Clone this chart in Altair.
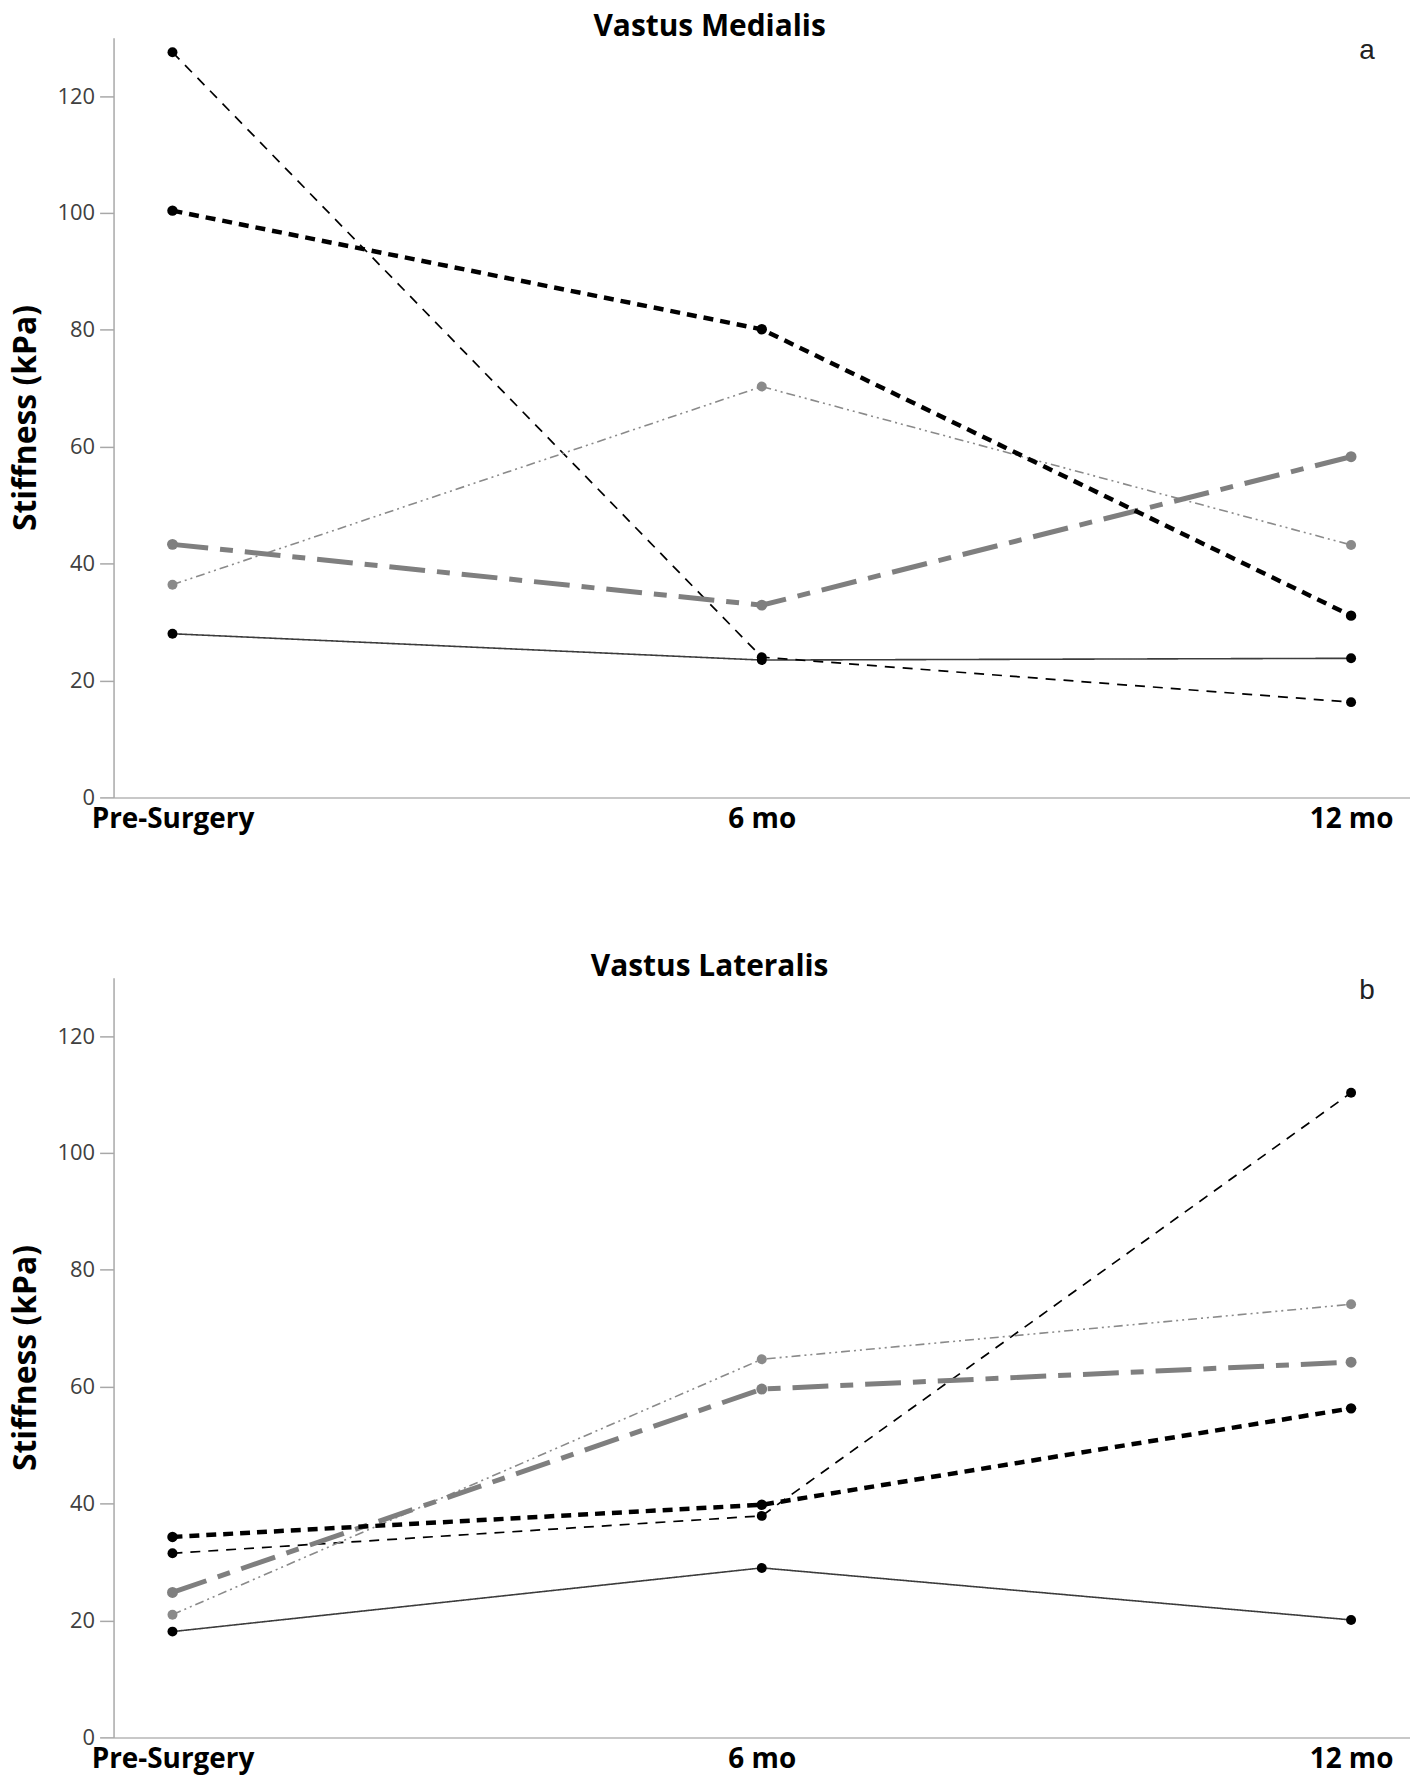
import altair as alt
import pandas as pd

# ---------------- data ----------------
timepoints = ["Pre-Surgery", "6 mo", "12 mo"]
series_names = ["solid", "dashed", "gray_dashdotdot", "gray_dashdot", "dotted"]

# Vastus Medialis (panel a)
vm_solid = [28.0, 23.5, 23.8]
vm_dashed = [127.5, 24.0, 16.3]
vm_dotted = [100.4, 80.1, 31.1]
vm_gray_dashdot = [43.3, 32.9, 58.3]
vm_gray_dashdotdot = [36.4, 70.3, 43.2]

# Vastus Lateralis (panel b)
vl_solid = [18.1, 29.0, 20.1]
vl_dashed = [31.5, 37.9, 110.3]
vl_dotted = [34.3, 39.8, 56.3]
vl_gray_dashdot = [24.8, 59.6, 64.2]
vl_gray_dashdotdot = [21.0, 64.7, 74.1]

major_ticks = [0, 20, 40, 60, 80, 100, 120]
minor_ticks = [10, 30, 50, 70, 90, 110, 130]

panel_titles = ["Vastus Medialis", "Vastus Lateralis"]
panel_letters = ["a", "b"]

# ---------------- styles ----------------
STYLES = {
    "solid":           dict(color="#3c3c3c", pcolor="#000000", dash=[1, 0], width=1.6, size=100),
    "dashed":          dict(color="#000000", pcolor="#000000", dash=[10, 8], width=1.7, size=100),
    "gray_dashdotdot": dict(color="#8a8a8a", pcolor="#8a8a8a", dash=[9, 4, 2, 4, 2, 4], width=1.6, size=100),
    "gray_dashdot":    dict(color="#7f7f7f", pcolor="#7f7f7f", dash=[36, 12, 13, 12], width=5.0, size=120),
    "dotted":          dict(color="#000000", pcolor="#000000", dash=[10, 7], width=4.5, size=110),
}

FONT = "Open Sans"
W, H = 1302, 763


def make_df(series_lists):
    rows = []
    for name, vals in zip(series_names, series_lists):
        for t, v in zip(timepoints, vals):
            rows.append({"time": t, "value": v, "series": name})
    return pd.DataFrame(rows)


X_AXIS = alt.Axis(
    title=None, labelAngle=0, ticks=False, labelFont=FONT,
    labelFontWeight="bold", labelFontSize=28, labelColor="#000000",
    labelPadding=8, domainColor="#c8c8c8", domainWidth=2,
)
Y_AXIS = alt.Axis(
    values=major_ticks, title="Stiffness (kPa)", titleFont=FONT,
    titleFontWeight="bold", titleFontSize=32, titleColor="#000000",
    titlePadding=15, labelFont=FONT, labelFontSize=22,
    labelColor="#404040", labelPadding=5, tickSize=14,
    tickColor="#a8a8a8", tickWidth=1.5, domainColor="#a8a8a8",
    domainWidth=1.5, grid=False,
)


def panel(title, letter, series_lists):
    df = make_df(series_lists)
    x_enc = alt.X("time:N", sort=timepoints,
                  scale=alt.Scale(type="point", padding=0.1), axis=X_AXIS)
    y_enc = alt.Y("value:Q", scale=alt.Scale(domain=[0, 130], nice=False, zero=True), axis=Y_AXIS)

    layers = []
    minor = alt.Chart(pd.DataFrame({"tick": minor_ticks})).mark_rule(
        color="#a8a8a8", strokeWidth=1.5
    ).encode(y=y_enc, x=alt.value(-7), x2=alt.value(0))
    layers.append(minor)

    for name in series_names:
        st = STYLES[name]
        sub = alt.Chart(df).transform_filter(alt.datum.series == name)
        layers.append(sub.mark_line(
            color=st["color"], strokeDash=st["dash"], strokeWidth=st["width"]
        ).encode(x=x_enc, y=y_enc))
    for name in series_names:
        st = STYLES[name]
        sub = alt.Chart(df).transform_filter(alt.datum.series == name)
        layers.append(sub.mark_circle(
            color=st["pcolor"], opacity=1, size=st["size"]
        ).encode(x=x_enc, y=y_enc))

    label = alt.Chart(pd.DataFrame({"label": [letter], "time": ["12 mo"], "value": [130]})).mark_text(
        font="Liberation Sans", fontSize=28, baseline="top", align="center", dx=16, dy=-1, color="#222222"
    ).encode(x=x_enc, y=y_enc, text="label:N")
    layers.append(label)

    return alt.layer(*layers).properties(
        width=W, height=H,
        title=alt.TitleParams(
            text=title, font=FONT, fontWeight="bold", fontSize=30,
            anchor="middle", frame="bounds", offset=-5, color="#000000",
        ),
    )


top = panel(panel_titles[0], panel_letters[0],
            [vm_solid, vm_dashed, vm_gray_dashdotdot, vm_gray_dashdot, vm_dotted])
bottom = panel(panel_titles[1], panel_letters[1],
               [vl_solid, vl_dashed, vl_gray_dashdotdot, vl_gray_dashdot, vl_dotted])

chart = alt.vconcat(top, bottom, spacing=119).properties(
    padding={"left": 1, "top": 0, "right": 0, "bottom": 0}
).configure(background="white").configure_view(stroke=None)

chart.save("out.html", embed_options={"renderer": "svg", "actions": False})
